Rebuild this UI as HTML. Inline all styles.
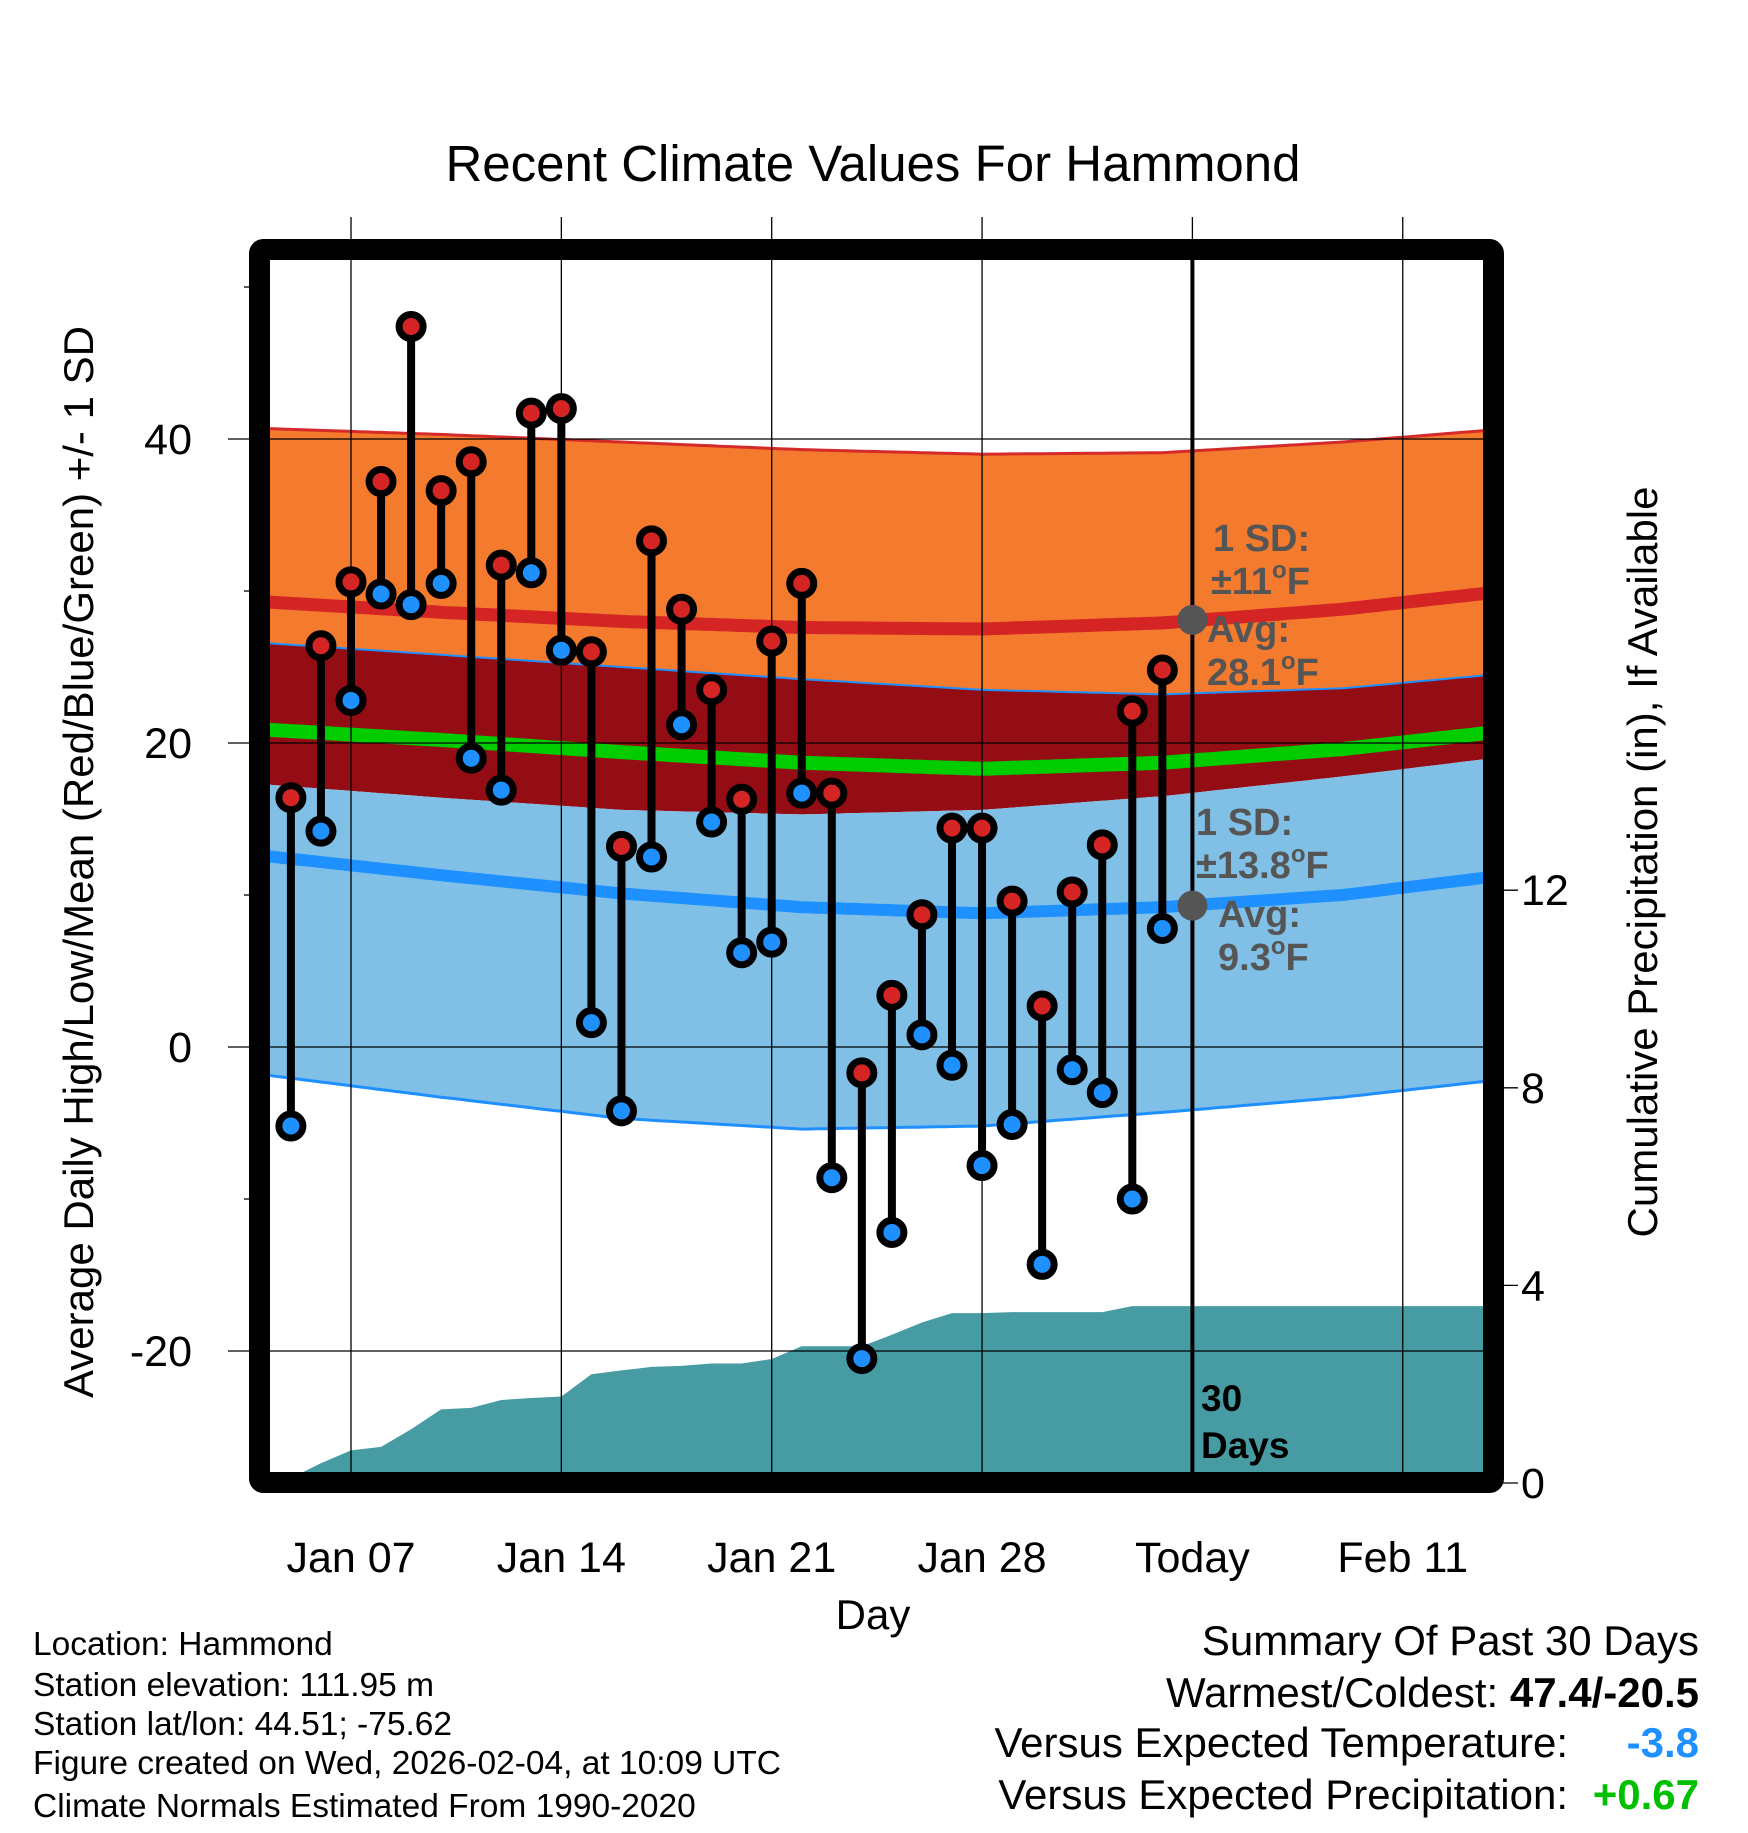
<!DOCTYPE html>
<html><head><meta charset="utf-8"><style>
html,body{margin:0;padding:0;background:#fff;}
svg text{font-family:"Liberation Sans",sans-serif;}
</style></head><body>
<svg id="chart" xmlns="http://www.w3.org/2000/svg" width="1748" height="1828" viewBox="0 0 1748 1828">
<rect width="1748" height="1828" fill="#fff"/>
<defs><clipPath id="plotclip"><rect x="270" y="260" width="1213" height="1213"/></clipPath></defs>
<text x="873" y="181" font-size="51" text-anchor="middle">Recent Climate Values For Hammond</text>
<g id="bands" clip-path="url(#plotclip)"></g>
<g id="grid"></g>
<g id="marks"></g>
<g id="axes"></g>
<g id="annot"></g>
<g font-size="33.5">
<text x="33" y="1655">Location: Hammond</text>
<text x="33" y="1696">Station elevation: 111.95 m</text>
<text x="33" y="1735">Station lat/lon: 44.51; -75.62</text>
<text x="33" y="1774">Figure created on Wed, 2026-02-04, at 10:09 UTC</text>
<text x="33" y="1817">Climate Normals Estimated From 1990-2020</text>
</g>
<g font-size="42" text-anchor="end">
<text x="1699" y="1655">Summary Of Past 30 Days</text>
<text x="1699" y="1707">Warmest/Coldest: <tspan font-weight="bold">47.4/-20.5</tspan></text>
<text x="1568" y="1757">Versus Expected Temperature:</text>
<text x="1699" y="1757" font-weight="bold" fill="#1e90ff">-3.8</text>
<text x="1568" y="1809">Versus Expected Precipitation:</text>
<text x="1699" y="1809" font-weight="bold" fill="#00c000">+0.67</text>
</g>
</svg>
<script>
const days = [5,6,7,8,9,10,11,12,13,14,15,16,17,18,19,20,21,22,23,24,25,26,27,28,29,30,31,32,33,34];
const highs = [16.4,26.4,30.6,37.2,47.4,36.6,38.5,31.7,41.7,42.0,26.0,13.2,33.3,28.8,23.5,16.3,26.7,30.5,16.7,-1.7,3.4,8.7,14.4,14.4,9.6,2.7,10.2,13.3,22.1,24.8];
const lows = [-5.2,14.2,22.8,29.8,29.1,30.5,19.0,16.9,31.2,26.1,1.6,-4.2,12.5,21.2,14.8,6.2,6.9,16.7,-8.6,-20.5,-12.2,0.8,-1.2,-7.8,-5.1,-14.3,-1.5,-3.0,-10.0,7.8];
const normDays = [4,10,16,22,28,34,40,45];
const hiUpper = [40.7,40.3,39.8,39.3,39.0,39.1,39.8,40.6];
const hiAvg = [29.3,28.6,28.0,27.6,27.5,27.9,28.8,29.9];
const hiLower = [26.6,25.8,25.0,24.2,23.5,23.2,23.6,24.5];
const meanT = [20.9,20.2,19.4,18.7,18.3,18.7,19.6,20.7];
const loUpper = [17.3,16.4,15.6,15.3,15.6,16.5,17.8,19.0];
const loAvg = [12.6,11.3,10.1,9.2,8.8,9.2,10.0,11.2];
const loLower = [-1.8,-3.3,-4.7,-5.4,-5.2,-4.3,-3.3,-2.2];
const precipDays = [4,5,6,7,8,9,10,11,12,13,14,15,16,17,18,19,20,21,22,23,24,25,26,27,28,29,30,31,32,33,34,35,46];
const precip = [0,0.1,0.4,0.66,0.73,1.09,1.49,1.52,1.68,1.72,1.75,2.2,2.28,2.35,2.37,2.42,2.42,2.51,2.77,2.77,2.77,3.0,3.25,3.44,3.44,3.46,3.46,3.46,3.46,3.58,3.58,3.58,3.58];
const yTicks = [-20,0,20,40];
const yMinor = [-10,10,30,50];
const pTicks = [0,4,8,12];
const xTickDays = [7,14,21,28,35,42];
const xTickLabels = ["Jan 07","Jan 14","Jan 21","Jan 28","Today","Feb 11"];
const todayDay = 35;

const NS="http://www.w3.org/2000/svg";
const X = d => 351 + (d-7)*30.05;
const Y = v => 1047 - v*15.2;
const P = p => 1483 - p*49.4;
function mk(tag, attrs, parent){const e=document.createElementNS(NS,tag);for(const k in attrs)e.setAttribute(k,attrs[k]);parent.appendChild(e);return e;}
const bands=document.getElementById('bands'), grid=document.getElementById('grid'), marks=document.getElementById('marks'), axes=document.getElementById('axes'), annot=document.getElementById('annot');
function interp(arr,d){for(let i=0;i<normDays.length-1;i++){if(d<=normDays[i+1]){const t=(d-normDays[i])/(normDays[i+1]-normDays[i]);return arr[i]+(arr[i+1]-arr[i])*t;}}return arr[arr.length-1];}
const sd=[];for(let d=4;d<=45.01;d+=0.25)sd.push(d);
function linePts(arr){return sd.map(d=>X(d).toFixed(1)+','+Y(interp(arr,d)).toFixed(1));}
function bandPath(a,b){const t=linePts(a),bb=linePts(b).reverse();return 'M'+t.join('L')+'L'+bb.join('L')+'Z';}
let e;
e=mk('path',{d:bandPath(hiUpper,hiLower),fill:'#f47a2e'},bands);


e=mk('path',{d:bandPath(hiLower,loUpper),fill:'#940d15'},bands);


e=mk('path',{d:bandPath(loUpper,loLower),fill:'#80c0e6'},bands);


e=mk('polyline',{points:linePts(hiUpper).join(' '),fill:'none',stroke:'#d42a2a','stroke-width':3},bands);


e=mk('polyline',{points:linePts(hiLower).join(' '),fill:'none',stroke:'#1e8fff','stroke-width':2},bands);


e=mk('polyline',{points:linePts(loLower).join(' '),fill:'none',stroke:'#1e8fff','stroke-width':3},bands);


e=mk('polyline',{points:linePts(hiAvg).join(' '),fill:'none',stroke:'#d42424','stroke-width':13},bands);


e=mk('polyline',{points:linePts(meanT).join(' '),fill:'none',stroke:'#00cc00','stroke-width':14},bands);


e=mk('polyline',{points:linePts(loAvg).join(' '),fill:'none',stroke:'#1e90ff','stroke-width':12},bands);


let pd='M'+X(precipDays[0])+','+P(0);
precipDays.forEach((d,i)=>{pd+='L'+X(d).toFixed(1)+','+P(precip[i]).toFixed(1);});
pd+='L'+X(precipDays[precipDays.length-1])+','+P(0)+'Z';
e=mk('path',{d:pd,fill:'#479ba3'},bands);


xTickDays.forEach(d=>{e=mk('line',{x1:X(d),x2:X(d),y1:217,y2:1483,stroke:'#000','stroke-width':1.3},grid);

});
yTicks.forEach(v=>{e=mk('line',{x1:228,x2:1483,y1:Y(v),y2:Y(v),stroke:'#000','stroke-width':1.3},grid);

});
yMinor.forEach(v=>{e=mk('line',{x1:244,x2:260,y1:Y(v),y2:Y(v),stroke:'#000','stroke-width':1.3},grid);

});
pTicks.forEach(p=>{e=mk('line',{x1:1493,x2:1518,y1:P(p),y2:P(p),stroke:'#000','stroke-width':1.3},grid);

});
e=mk('line',{x1:X(todayDay),x2:X(todayDay),y1:260,y2:1473,stroke:'#000','stroke-width':4},grid);


days.forEach((d,i)=>{
 e=mk('line',{x1:X(d),x2:X(d),y1:Y(highs[i]),y2:Y(lows[i]),stroke:'#000','stroke-width':8},marks);
 
 
});
days.forEach((d,i)=>{
 e=mk('circle',{cx:X(d),cy:Y(highs[i]),r:12,fill:'#d42424',stroke:'#000','stroke-width':7},marks);
 
 
 e=mk('circle',{cx:X(d),cy:Y(lows[i]),r:12,fill:'#1e90ff',stroke:'#000','stroke-width':7},marks);
 
 
});
e=mk('rect',{x:259.5,y:249.5,width:1234,height:1233,fill:'none',stroke:'#000','stroke-width':21,rx:4},axes);


yTicks.forEach(v=>{e=mk('text',{x:192,y:Y(v)+15,'font-size':43,'text-anchor':'end'},axes);e.textContent=v;

});
pTicks.forEach(p=>{e=mk('text',{x:1521,y:P(p)+15,'font-size':43},axes);e.textContent=p;

});
xTickDays.forEach((d,i)=>{e=mk('text',{x:X(d),y:1572,'font-size':43,'text-anchor':'middle'},axes);e.textContent=xTickLabels[i];

});
e=mk('text',{x:873,y:1629,'font-size':42,'text-anchor':'middle'},axes);e.textContent='Day';


e=mk('text',{x:0,y:0,'font-size':42,'text-anchor':'middle',transform:'translate(93,862) rotate(-90)'},axes);e.textContent='Average Daily High/Low/Mean (Red/Blue/Green) +/- 1 SD';


e=mk('text',{x:0,y:0,'font-size':42,'text-anchor':'middle',transform:'translate(1657,862) rotate(-90)'},axes);e.textContent='Cumulative Precipitation (in), If Available';


const tx=X(todayDay);
e=mk('circle',{cx:tx,cy:Y(28.1),r:15,fill:'#555'},annot);


e=mk('circle',{cx:tx,cy:Y(9.3),r:15,fill:'#555'},annot);


const notes=[[1213,551,'1 SD:'],[1211,594,'±11<tspan font-size="24" dy="-16">o</tspan><tspan dy="16">F</tspan>'],[1207,642,'Avg:'],[1207,685,'28.1<tspan font-size="24" dy="-16">o</tspan><tspan dy="16">F</tspan>'],
[1196,835,'1 SD:'],[1196,878,'±13.8<tspan font-size="24" dy="-16">o</tspan><tspan dy="16">F</tspan>'],[1218,927,'Avg:'],[1218,970,'9.3<tspan font-size="24" dy="-16">o</tspan><tspan dy="16">F</tspan>']];
notes.forEach(n=>{e=mk('text',{x:n[0],y:n[1],'font-size':38,'font-weight':'bold',fill:'#555'},annot);e.innerHTML=n[2];

});
e=mk('text',{x:1201,y:1411,'font-size':37,'font-weight':'bold'},annot);e.textContent='30';


e=mk('text',{x:1201,y:1458,'font-size':37,'font-weight':'bold'},annot);e.textContent='Days';


</script>
</body></html>
